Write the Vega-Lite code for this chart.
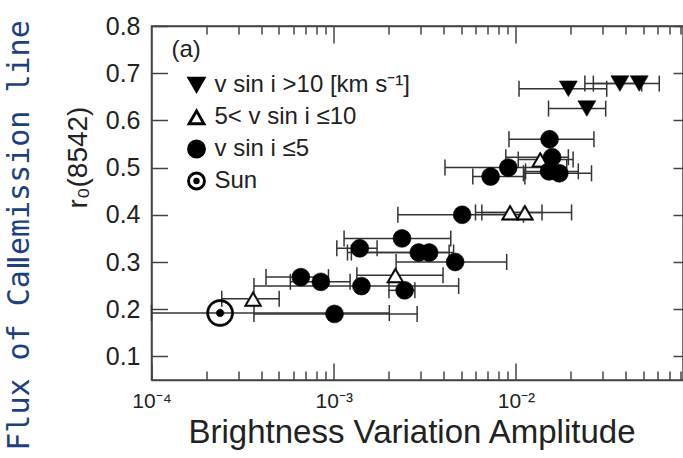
{
  "$schema": "https://vega.github.io/schema/vega-lite/v6.json",
  "width": 531.5,
  "height": 354,
  "autosize": {"type": "none"},
  "padding": {"left": 151.5, "top": 26, "right": 0, "bottom": 78},
  "background": "white",
  "config": {
    "view": {"stroke": "#444", "strokeWidth": 1.5},
    "axis": {"labelFont": "Liberation Sans", "titleFont": "Liberation Sans", "labelColor": "#222", "titleColor": "#222", "domainColor": "#444", "tickColor": "#444", "domainWidth": 1.5, "tickWidth": 1.5, "titleFontWeight": "normal", "grid": false},
    "legend": {"titleFont": "Liberation Sans", "titleFontSize": 24, "titleFontWeight": "normal", "titleColor": "#222", "labelFont": "Liberation Sans", "labelFontSize": 24, "labelColor": "#222", "symbolSize": 300, "rowPadding": 8, "padding": 0, "titlePadding": 11, "labelOffset": 6, "symbolOffset": 13, "labelLimit": 400}
  },
  "data": {"values": [
    {"g": "v sin i >10 [km s⁻¹]", "x": 0.0194, "y": 0.667, "lo": 0.0104, "hi": 0.0315},
    {"g": "v sin i >10 [km s⁻¹]", "x": 0.0245, "y": 0.625, "lo": 0.0151, "hi": 0.0311},
    {"g": "v sin i >10 [km s⁻¹]", "x": 0.0372, "y": 0.678, "lo": 0.0239, "hi": 0.049},
    {"g": "v sin i >10 [km s⁻¹]", "x": 0.0475, "y": 0.678, "lo": 0.0266, "hi": 0.0612},
    {"g": "5< v sin i ≤10", "x": 0.000361, "y": 0.222, "lo": 0.000243, "hi": 0.000502},
    {"g": "5< v sin i ≤10", "x": 0.00218, "y": 0.272, "lo": 0.00134, "hi": 0.00398},
    {"g": "5< v sin i ≤10", "x": 0.00929, "y": 0.405, "lo": 0.006, "hi": 0.0139},
    {"g": "5< v sin i ≤10", "x": 0.0112, "y": 0.405, "lo": 0.0065, "hi": 0.0202},
    {"g": "5< v sin i ≤10", "x": 0.0136, "y": 0.517, "lo": 0.0103, "hi": 0.0206},
    {"g": "v sin i ≤5", "x": 0.00101, "y": 0.19, "lo": 0.000365, "hi": 0.00287},
    {"g": "v sin i ≤5", "x": 0.00066, "y": 0.268, "lo": 0.000425, "hi": 0.000936},
    {"g": "v sin i ≤5", "x": 0.00085, "y": 0.258, "lo": 0.000578, "hi": 0.00123},
    {"g": "v sin i ≤5", "x": 0.00142, "y": 0.249, "lo": 0.000365, "hi": 0.00485},
    {"g": "v sin i ≤5", "x": 0.00245, "y": 0.24, "lo": 0.00201, "hi": 0.00279},
    {"g": "v sin i ≤5", "x": 0.00464, "y": 0.3, "lo": 0.0022, "hi": 0.0089},
    {"g": "v sin i ≤5", "x": 0.00139, "y": 0.329, "lo": 0.00104, "hi": 0.00173},
    {"g": "v sin i ≤5", "x": 0.00237, "y": 0.35, "lo": 0.00114, "hi": 0.00439},
    {"g": "v sin i ≤5", "x": 0.00293, "y": 0.32, "lo": 0.00119, "hi": 0.0043},
    {"g": "v sin i ≤5", "x": 0.00334, "y": 0.32, "lo": 0.00125, "hi": 0.00455},
    {"g": "v sin i ≤5", "x": 0.00507, "y": 0.4, "lo": 0.00225, "hi": 0.011},
    {"g": "v sin i ≤5", "x": 0.0153, "y": 0.56, "lo": 0.00916, "hi": 0.0268},
    {"g": "v sin i ≤5", "x": 0.0158, "y": 0.522, "lo": 0.0088, "hi": 0.0194},
    {"g": "v sin i ≤5", "x": 0.00908, "y": 0.5, "lo": 0.00408, "hi": 0.019},
    {"g": "v sin i ≤5", "x": 0.00726, "y": 0.481, "lo": 0.0058, "hi": 0.0112},
    {"g": "v sin i ≤5", "x": 0.0152, "y": 0.492, "lo": 0.0113, "hi": 0.022},
    {"g": "v sin i ≤5", "x": 0.0173, "y": 0.488, "lo": 0.011, "hi": 0.026},
    {"g": "Sun", "x": 0.000238, "y": 0.192, "lo": 0.0001, "hi": 0.00202}
  ]},
  "resolve": {"axis": {"x": "independent", "y": "independent"}},
  "layer": [
    {
      "mark": {"type": "rule", "color": "#333", "strokeWidth": 1.5},
      "encoding": {
        "x": {"field": "lo", "type": "quantitative", "scale": {"type": "log", "domain": [0.0001, 0.0826]},
          "axis": {"orient": "bottom", "values": [0.0001, 0.0002, 0.0003, 0.0004, 0.0005, 0.0006, 0.0007, 0.0008, 0.0009, 0.001, 0.002, 0.003, 0.004, 0.005, 0.006, 0.007, 0.008, 0.009, 0.01, 0.02, 0.03, 0.04, 0.05, 0.06, 0.07, 0.08],
            "ticks": true, "tickSize": {"condition": {"test": "datum.value === 0.0001 || datum.value === 0.001 || datum.value === 0.01", "value": -17}, "value": -9},
            "domain": true, "labelFlush": false, "labelOverlap": false, "labelFontSize": 21, "labelPadding": 27,
            "labelExpr": "datum.value === 0.0001 ? '10⁻⁴' : datum.value === 0.001 ? '10⁻³' : datum.value === 0.01 ? '10⁻²' : ''",
            "title": "Brightness Variation Amplitude", "titleFontSize": 33, "titleBaseline": "alphabetic", "titleX": 260, "titleY": 62}},
        "x2": {"field": "hi"},
        "y": {"field": "y", "type": "quantitative", "scale": {"domain": [0.05, 0.8]},
          "axis": {"orient": "left", "values": [0.1, 0.2, 0.3, 0.4, 0.5, 0.6, 0.7, 0.8], "format": ".1f", "ticks": true, "tickSize": -16, "domain": true, "labelFontSize": 25, "labelPadding": 27.5,
            "title": "r₀(8542)", "titleFontSize": 28, "titleBaseline": "alphabetic", "titleAngle": -90, "titleX": -65, "titleY": 131}}
      }
    },
    {
      "mark": {"type": "tick", "orient": "vertical", "size": 16, "thickness": 1.5, "color": "#333", "opacity": 1},
      "encoding": {
        "x": {"field": "lo", "type": "quantitative", "scale": {"type": "log", "domain": [0.0001, 0.0826]}, "axis": null},
        "y": {"field": "y", "type": "quantitative", "scale": {"domain": [0.05, 0.8]}, "axis": null}
      }
    },
    {
      "mark": {"type": "tick", "orient": "vertical", "size": 16, "thickness": 1.5, "color": "#333", "opacity": 1},
      "encoding": {
        "x": {"field": "hi", "type": "quantitative", "scale": {"type": "log", "domain": [0.0001, 0.0826]}, "axis": null},
        "y": {"field": "y", "type": "quantitative", "scale": {"domain": [0.05, 0.8]},
          "axis": {"orient": "left", "labels": false, "ticks": false, "domain": false, "title": "Flux of CaⅡemission line", "titleFont": "DejaVu Sans Mono", "titleFontSize": 30, "titleColor": "#1f3f7f", "titleBaseline": "alphabetic", "titleAngle": -90, "titleX": -123, "titleY": 209}}
      }
    },
    {
      "transform": [{"filter": "datum.g == '5< v sin i ≤10'"}],
      "mark": {"type": "point", "shape": "triangle-up", "filled": true, "color": "white", "size": 320, "opacity": 1},
      "encoding": {
        "x": {"field": "x", "type": "quantitative", "scale": {"type": "log", "domain": [0.0001, 0.0826]},
          "axis": {"orient": "top", "values": [0.0002, 0.0003, 0.0004, 0.0005, 0.0006, 0.0007, 0.0008, 0.0009, 0.002, 0.003, 0.004, 0.005, 0.006, 0.007, 0.008, 0.009, 0.02, 0.03, 0.04, 0.05, 0.06, 0.07, 0.08], "labels": false, "domain": false, "ticks": true, "tickSize": -8, "title": ""}},
        "y": {"field": "y", "type": "quantitative", "scale": {"domain": [0.05, 0.8]}, "axis": null}
      }
    },
    {
      "transform": [{"filter": "datum.g != 'Sun'"}],
      "mark": {"type": "point", "filled": true, "size": 320, "stroke": "black", "strokeWidth": 0.6, "opacity": 1},
      "encoding": {
        "x": {"field": "x", "type": "quantitative", "scale": {"type": "log", "domain": [0.0001, 0.0826]},
          "axis": {"orient": "top", "values": [0.001, 0.01], "labels": false, "domain": true, "ticks": true, "tickSize": -17, "title": ""}},
        "y": {"field": "y", "type": "quantitative", "scale": {"domain": [0.05, 0.8]},
          "axis": {"orient": "right", "values": [0.1, 0.2, 0.3, 0.4, 0.5, 0.6, 0.7, 0.8], "labels": false, "domain": false, "ticks": true, "tickSize": -10, "title": ""}},
        "shape": {"field": "g", "type": "nominal",
          "scale": {"domain": ["v sin i >10 [km s⁻¹]", "5< v sin i ≤10", "v sin i ≤5", "Sun"], "range": ["triangle-down", "M0,-0.866L-1,0.866L1,0.866ZM0,-0.54L0.72,0.705L-0.72,0.705Z", "circle", "M1,0A1,1,0,1,1,-1,0A1,1,0,1,1,1,0ZM0.84,0A0.84,0.84,0,1,0,-0.84,0A0.84,0.84,0,1,0,0.84,0ZM0.28,0A0.28,0.28,0,1,1,-0.28,0A0.28,0.28,0,1,1,0.28,0Z"]},
          "legend": {"title": "(a)", "orient": "none", "legendX": 20, "legendY": 12}},
        "fill": {"field": "g", "type": "nominal",
          "scale": {"domain": ["v sin i >10 [km s⁻¹]", "5< v sin i ≤10", "v sin i ≤5", "Sun"], "range": ["black", "black", "black", "black"]},
          "legend": {"title": "(a)", "orient": "none", "legendX": 20, "legendY": 12}}
      }
    },
    {
      "transform": [{"filter": "datum.g == 'Sun'"}],
      "mark": {"type": "point", "filled": true, "size": 729, "stroke": "black", "strokeWidth": 0.6, "opacity": 1},
      "encoding": {
        "x": {"field": "x", "type": "quantitative", "scale": {"type": "log", "domain": [0.0001, 0.0826]}, "axis": null},
        "y": {"field": "y", "type": "quantitative", "scale": {"domain": [0.05, 0.8]}, "axis": null},
        "shape": {"field": "g", "type": "nominal", "legend": {"title": "(a)", "orient": "none", "legendX": 20, "legendY": 12}},
        "fill": {"field": "g", "type": "nominal", "legend": {"title": "(a)", "orient": "none", "legendX": 20, "legendY": 12}}
      }
    }
  ]
}
